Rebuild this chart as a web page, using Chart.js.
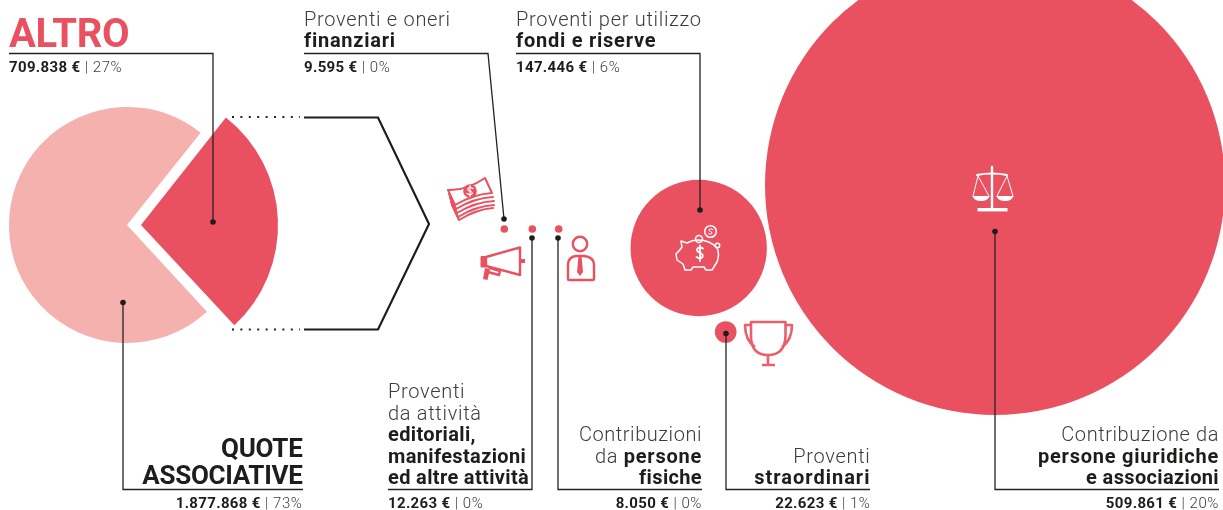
<!DOCTYPE html>
<html lang="it">

<head>
    <meta charset="UTF-8">
    <title>Proventi</title>
    <script src="https://cdn.jsdelivr.net/npm/chart.js"></script>
    <style>
        body {
            margin: 0;
            background: #fff;
            overflow: hidden;
        }

        #stage {
            position: relative;
            width: 1223px;
            height: 510px;
            overflow: hidden;
        }

        canvas,
        svg {
            position: absolute;
        }

        svg {
            left: 0;
            top: 0;
        }

        text {
            font-family: Roboto, sans-serif;
            fill: #3c3c3c;
            font-weight: 300;
            font-size: 20px;
            letter-spacing: 0.7px;
        }

        .b {
            font-weight: 700;
            fill: #1d1d1b;
            letter-spacing: 0.75px;
        }

        .tight {
            letter-spacing: 0.35px;
        }

        .wide {
            letter-spacing: 1px;
        }

        .end {
            text-anchor: end;
        }

        .big {
            font-size: 26px;
            font-weight: 700;
            fill: #1d1d1b;
            letter-spacing: -0.3px;
        }

        .amount {
            font-size: 15px;
            letter-spacing: 0.55px;
        }

        .amount .b {
            letter-spacing: 0.35px;
        }

        .leader {
            fill: none;
            stroke: #222;
            stroke-width: 1.3;
        }

        .red {
            fill: none;
            stroke: #ea5160;
            stroke-width: 2.4;
            stroke-linejoin: round;
            stroke-linecap: round;
        }

        .white {
            fill: none;
            stroke: #fff;
            stroke-width: 1.5;
            stroke-linejoin: round;
            stroke-linecap: round;
        }
    </style>
</head>

<body>
    <div id="stage">
        <canvas id="paleSlice" width="300" height="300" style="left:-23px;top:75px"></canvas>
        <canvas id="darkSlice" width="320" height="320" style="left:-19.5px;top:64.5px"></canvas>
        <canvas id="bubbles" width="1223" height="510" style="left:0;top:0"></canvas>

        <svg id="notes" width="1223" height="510" viewBox="0 0 1223 510">
            <!-- bracket from the pie to the bubbles -->
            <line x1="232" y1="117" x2="300" y2="117" stroke="#222" stroke-width="2" stroke-dasharray="2 6.4" />
            <line x1="232" y1="329.5" x2="300" y2="329.5" stroke="#222" stroke-width="2" stroke-dasharray="2 6.4" />
            <polyline points="304,117.5 378,117.5 429,224 378,329.5 304,329.5" fill="none" stroke="#1d1d1b" stroke-width="2.2" />

            <!-- leader lines -->
            <polyline class="leader" points="9,53.5 213,53.5 213,222" />
            <polyline class="leader" points="304,53.5 488,53.5 504,219" />
            <polyline class="leader" points="516,53.5 700,53.5 700,210" />
            <polyline class="leader" points="123,302 123,489.5 303,489.5" />
            <polyline class="leader" points="388,489.5 532,489.5 532,238" />
            <polyline class="leader" points="702,489.5 558,489.5 558,238" />
            <polyline class="leader" points="870,489.5 726,489.5 726,333" />
            <polyline class="leader" points="1219,489.5 995,489.5 995,231" />
            <g fill="#1d1d1b">
                <circle cx="213" cy="222" r="2.8" />
                <circle cx="504" cy="219" r="2.8" />
                <circle cx="700" cy="210" r="2.8" />
                <circle cx="123" cy="302.5" r="2.8" />
                <circle cx="532" cy="238" r="2.8" />
                <circle cx="558" cy="238" r="2.8" />
                <circle cx="726" cy="333.5" r="2.8" />
                <circle cx="995" cy="231.5" r="2.8" />
            </g>

            <!-- names -->
            <text x="9" y="46.5" style="font-size:40px;font-weight:700;fill:#ea5160;letter-spacing:-0.4px">ALTRO</text>
            <text x="304" y="26">Proventi e oneri</text>
            <text x="304" y="46.5" class="b">finanziari</text>
            <text x="516" y="26">Proventi per utilizzo</text>
            <text x="516" y="46.5" class="b">fondi e riserve</text>
            <text x="302.5" y="457" class="big end">QUOTE</text>
            <text x="302.5" y="483.5" class="big end">ASSOCIATIVE</text>
            <text x="388" y="398">Proventi</text>
            <text x="388" y="419.5">da attività</text>
            <text x="388" y="441" class="b tight">editoriali,</text>
            <text x="388" y="462.5" class="b tight">manifestazioni</text>
            <text x="388" y="483.5" class="b tight">ed altre attività</text>
            <text x="702" y="441" class="end" style="letter-spacing:0.55px">Contribuzioni</text>
            <text x="702" y="462.5" class="end">da <tspan class="b">persone</tspan></text>
            <text x="702" y="483.5" class="end b tight">fisiche</text>
            <text x="870.5" y="462.5" class="end">Proventi</text>
            <text x="870.5" y="483.5" class="end b wide">straordinari</text>
            <text x="1219" y="441" class="end" style="letter-spacing:0.58px">Contribuzione da</text>
            <text x="1219" y="462.5" class="end b">persone giuridiche</text>
            <text x="1219" y="483.5" class="end b tight">e associazioni</text>

            <!-- banknotes -->
            <g class="red" style="stroke-width:2">
                <path d="M448 190 Q466 191 485 178 L492 193 Q474 194 455 205 Z" />
                <path d="M449 194 L456 209 Q474 198 493 197" />
                <path d="M450 198 L457 213 Q475 202 494 201" />
                <path d="M451 202 L458 217 Q476 206 494 205" />
                <path d="M452 205 L459 220 Q477 209 493 208" />
            </g>
            <circle cx="470" cy="191" r="6.8" fill="#ea5160" />
            <path class="white" style="stroke-width:1.2" d="M473 188.5 Q470 186.5 468 188.5 Q467 190.5 470 191 Q473 192 472 194 Q470 195.5 467 193.5 M470 185.5 V196.5" />

            <!-- megaphone -->
            <g class="red">
                <path d="M486 257 L520 247.5 V275 L486 266 Z" />
                <path d="M490 268 L500 271 L499 275 L488 272" />
            </g>
            <rect x="480.5" y="256" width="6" height="11.5" rx="1" fill="#ea5160" />
            <path d="M485 268 L490 269 L487.5 280 L483 279 Z" fill="#ea5160" />
            <rect x="521" y="259" width="4" height="4" fill="#ea5160" />

            <!-- person -->
            <g class="red">
                <circle cx="580" cy="244" r="7.2" />
                <path d="M568 279 V265 Q568 257 576 256 H584 Q594 257 594 265 V279 Q594 280 592 280 H569 Q568 280 568 279 Z" />
            </g>
            <path d="M578.5 256 H581.5 L583 272 L580 276 L577 272 Z" fill="#ea5160" />

            <!-- piggy bank -->
            <g class="white">
                <path d="M676 254 Q680 250 682 247 L681 241 L687 243 Q692 240 698 240 Q710 240 717 248 Q720 254 717 262 L712 270 H706 L704 267 H693 L691 270 H685 L683 264 L677 260 Z" />
                <circle cx="710.5" cy="231.5" r="5.8" />
                <circle cx="699" cy="239" r="3.5" />
                <circle cx="717.5" cy="245.5" r="2.2" />
                <path d="M703 248.5 Q700 246.5 697.5 248.5 Q696 251 699.5 252.5 Q703.5 254 702.5 257 Q700 259.5 696.5 257 M700 245.5 V261" style="stroke-width:1.8" />
                <path d="M713 229.5 Q710.5 228 709 229.5 Q708.5 231 710.5 231.5 Q712.5 232.5 712 233.5 Q710.5 235 708.5 233.5" style="stroke-width:1" />
            </g>

            <!-- trophy -->
            <g style="fill:none;stroke:#ea5f6b;stroke-width:2.6;stroke-linejoin:round">
                <path d="M751 322 H785.5 V336 Q785 355 768 355 Q751 355 751 336 Z" />
                <path d="M751 325 H745 Q745 340 755 347" />
                <path d="M785.5 325 H792 Q792 340 782 347" />
                <path d="M768 355 V365 M762 365 H775" />
            </g>

            <!-- scales -->
            <g class="white">
                <path d="M992 167 V208" style="stroke-width:2.4" />
                <path d="M977 175 Q992 172 1007 175" style="stroke-width:2" />
                <path d="M978 176 L973 196 M978 176 L989 196 M1007 176 L997 196 M1007 176 L1013 196" style="stroke-width:1" />
            </g>
            <g fill="#fff">
                <rect x="977.5" y="208" width="30" height="3.4" />
                <path d="M972.5 196 H989.5 Q988 201 981 201 Q974 201 972.5 196 Z" />
                <path d="M996.5 196 H1013.5 Q1012 201 1005 201 Q998 201 996.5 196 Z" />
            </g>
        </svg>
    </div>

    <script>
        // pie: quote associative against "altro"
        const pieLabels = ["Altro", "Quote associative"];
        const pieValues = [709838, 1877868];
        const piePercents = [27, 73];

        // what "altro" is made of
        const bubbleLabels = [
            "Proventi e oneri finanziari",
            "Proventi da attività editoriali, manifestazioni ed altre attività",
            "Contribuzioni da persone fisiche",
            "Proventi per utilizzo fondi e riserve",
            "Proventi straordinari",
            "Contribuzione da persone giuridiche e associazioni"
        ];
        const bubbleValues = [9595, 12263, 8050, 147446, 22623, 509861];
        const bubblePercents = [0, 0, 0, 6, 1, 20];

        // where the bubbles sit on the page (the picture has no real axes)
        const bubbleCenterX = [504.3, 532.3, 558.7, 698.7, 725.7, 995];
        const bubbleCenterY = [229, 229, 229, 248, 332, 185];

        const RED = "#ea5160";
        const PALE = "#f5b1ad";

        // the big circle is 230px, smaller ones shrink a bit less than linearly
        // and anything tiny stays a dot
        function bubbleRadius(value) {
            if (value < 15000) return 3.8;
            return 230 * Math.pow(value / 509861, 0.98);
        }

        function pieSlice(id, radius, rotation, colors) {
            new Chart(document.getElementById(id), {
                type: "pie",
                data: {
                    labels: pieLabels,
                    datasets: [{
                        data: pieValues,
                        backgroundColor: colors,
                        borderWidth: 0,
                        radius: radius
                    }]
                },
                options: {
                    responsive: false,
                    animation: false,
                    rotation: rotation,
                    layout: { padding: 0 },
                    plugins: { legend: { display: false }, tooltip: { enabled: false } }
                }
            });
        }

        // the two slices have different radii and centres, so each gets its own pie
        pieSlice("paleSlice", 118, 38.6, ["rgba(0,0,0,0)", PALE]);
        pieSlice("darkSlice", 137, 38.3, [RED, "rgba(0,0,0,0)"]);

        new Chart(document.getElementById("bubbles"), {
            type: "bubble",
            data: {
                labels: bubbleLabels,
                datasets: [{
                    data: bubbleValues.map((v, i) => ({
                        x: bubbleCenterX[i],
                        y: bubbleCenterY[i],
                        r: bubbleRadius(v)
                    })),
                    backgroundColor: RED,
                    borderWidth: 0,
                    clip: false
                }]
            },
            options: {
                responsive: false,
                animation: false,
                // otherwise the chart area shrinks by the biggest radius
                layout: { padding: 0, autoPadding: false },
                scales: {
                    x: { type: "linear", min: 0, max: 1223, display: false },
                    y: { type: "linear", min: 0, max: 510, reverse: true, display: false }
                },
                plugins: { legend: { display: false }, tooltip: { enabled: false } }
            }
        });

        // amounts under every name
        function euro(v) {
            return String(v).replace(/\B(?=(\d{3})+$)/g, ".") + " €";
        }

        function amountText(value, percent, x, y, alignEnd) {
            const t = document.createElementNS("http://www.w3.org/2000/svg", "text");
            t.setAttribute("x", x);
            t.setAttribute("y", y);
            t.setAttribute("class", alignEnd ? "amount end" : "amount");
            t.innerHTML = `<tspan class="b">${euro(value)}</tspan> | ${percent}%`;
            document.getElementById("notes").appendChild(t);
        }

        amountText(pieValues[0], piePercents[0], 9, 72, false);
        amountText(pieValues[1], piePercents[1], 302.5, 508, true);
        amountText(bubbleValues[0], bubblePercents[0], 304, 72, false);
        amountText(bubbleValues[1], bubblePercents[1], 388, 508, false);
        amountText(bubbleValues[2], bubblePercents[2], 702, 508, true);
        amountText(bubbleValues[3], bubblePercents[3], 516, 72, false);
        amountText(bubbleValues[4], bubblePercents[4], 870.5, 508, true);
        amountText(bubbleValues[5], bubblePercents[5], 1219, 508, true);
    </script>
</body>

</html>
